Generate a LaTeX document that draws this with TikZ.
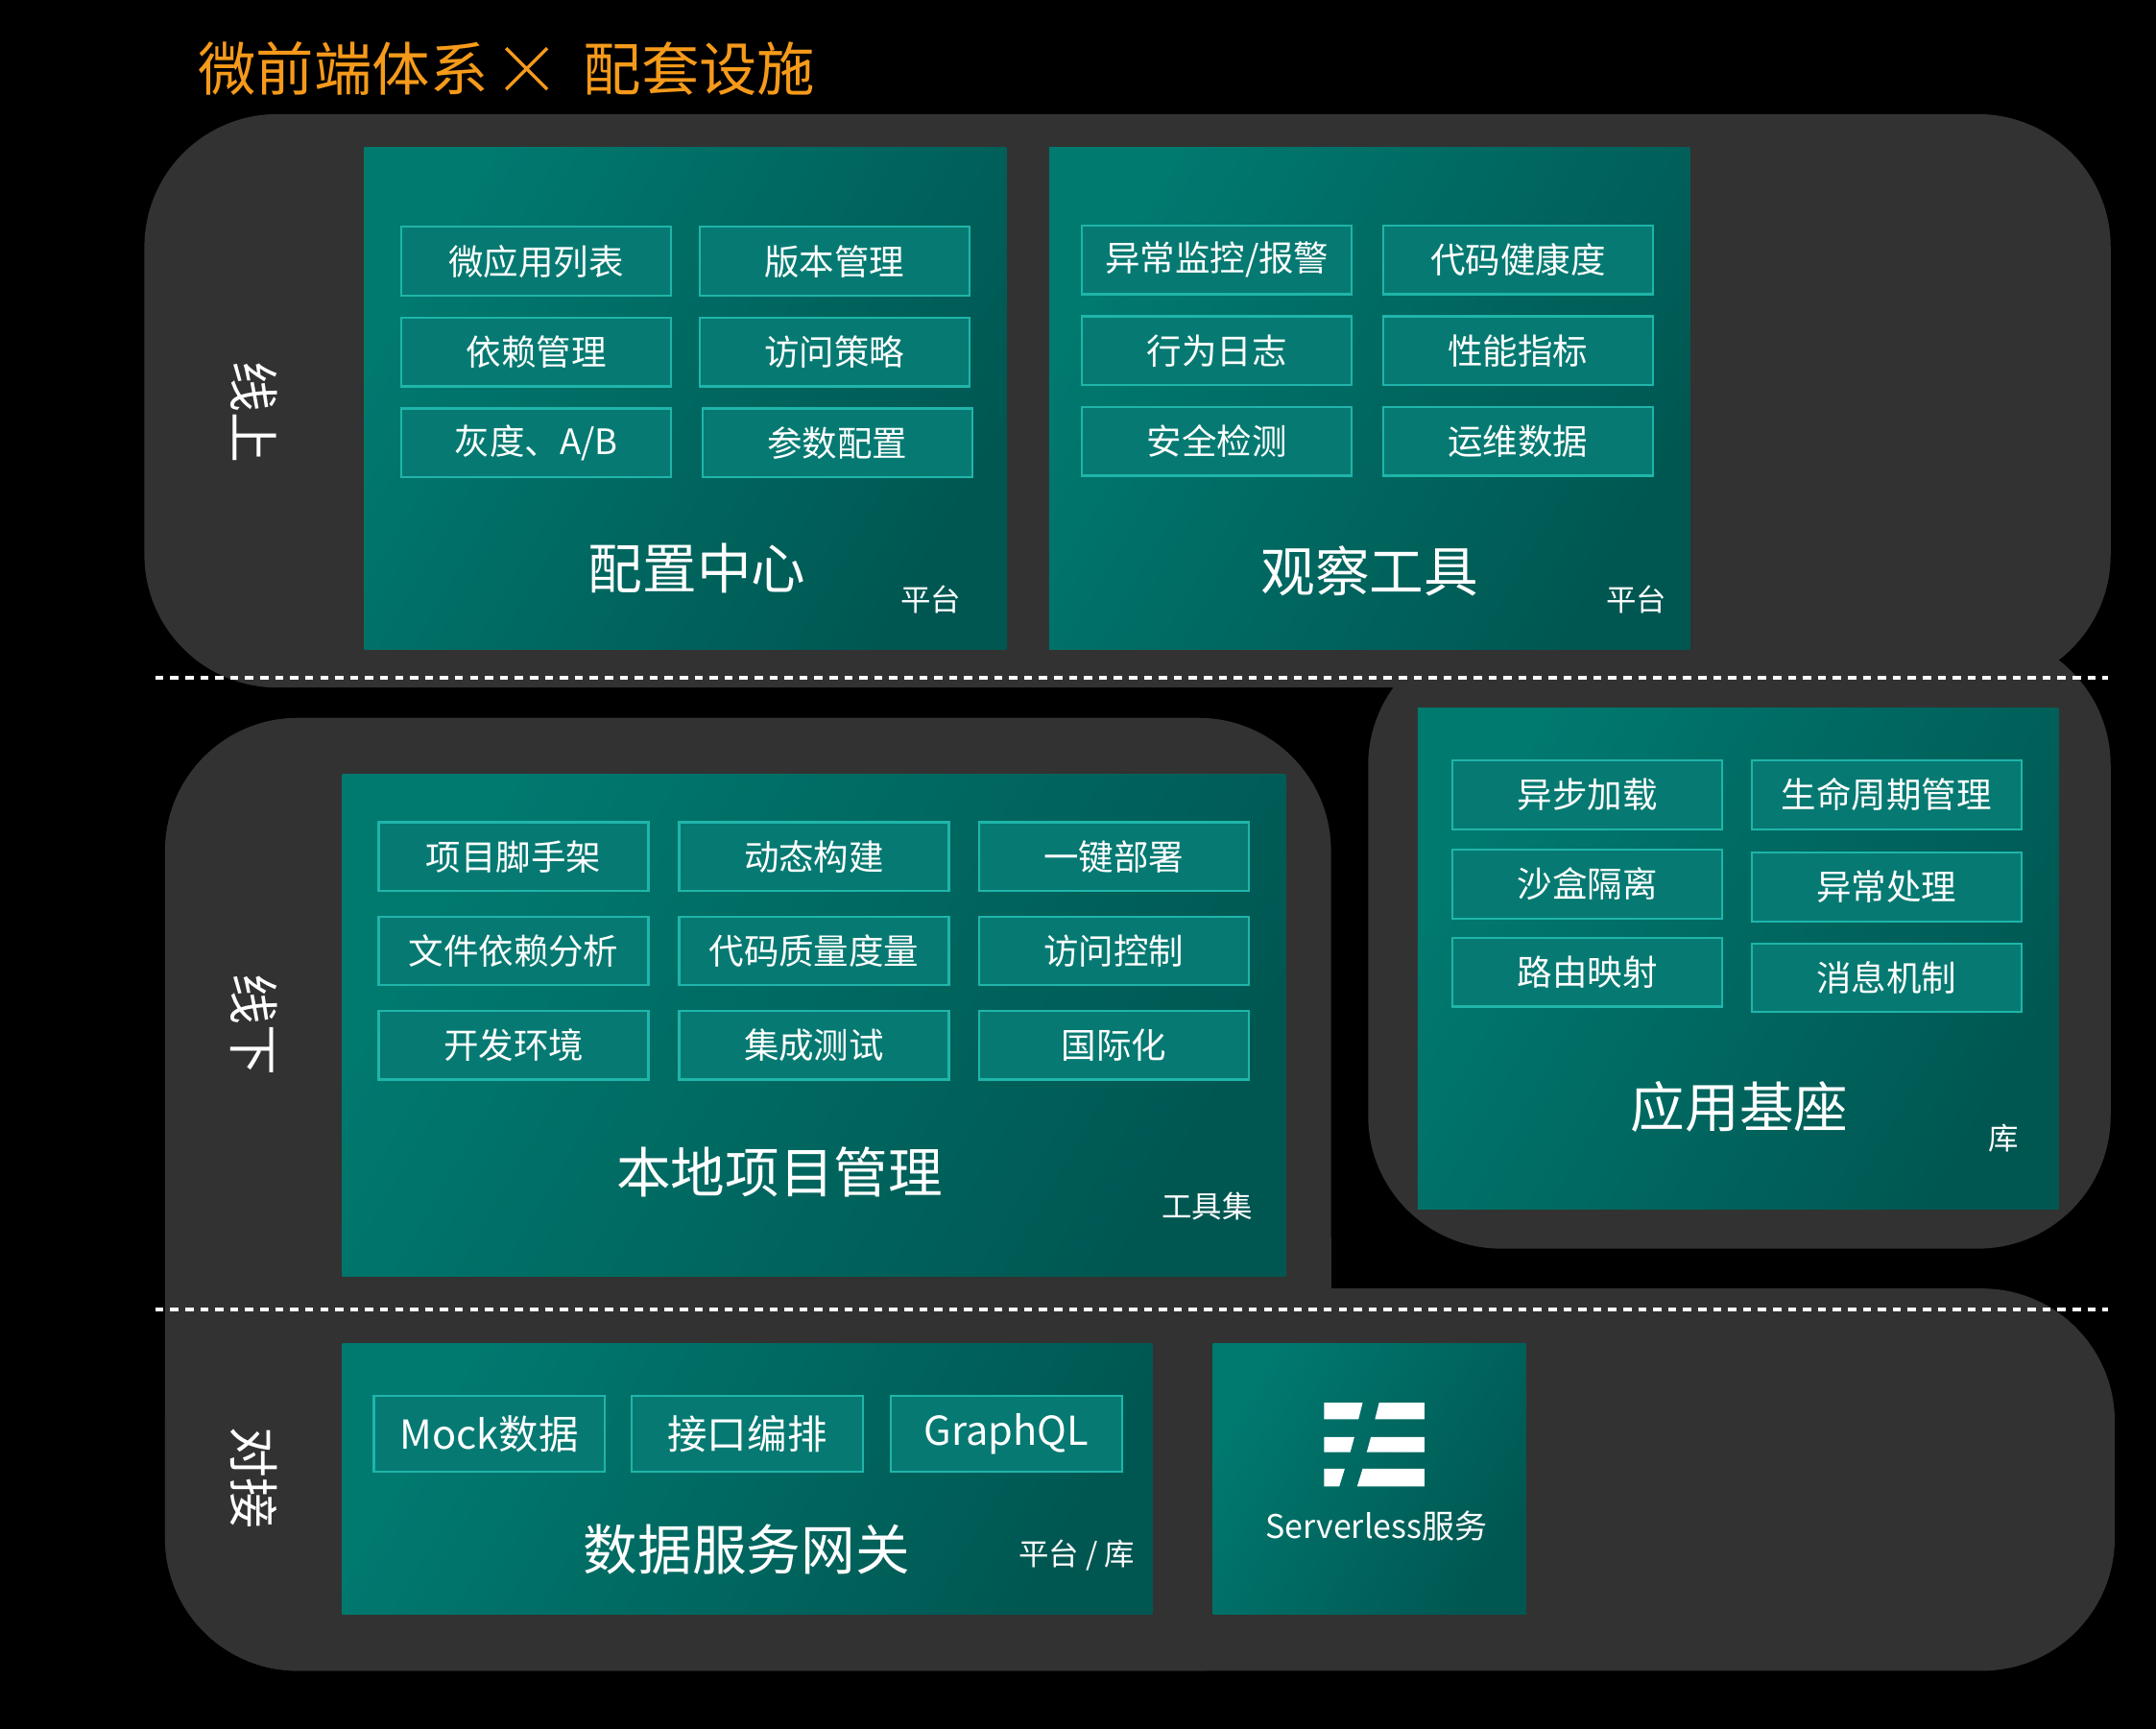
\documentclass[tikz,border=0pt]{standalone}
\usepackage{fontspec}
\setmainfont{Noto Sans CJK SC}
\definecolor{bg}{HTML}{000000}
\definecolor{panel}{HTML}{323232}
\definecolor{tealA}{HTML}{00796F}
\definecolor{tealB}{HTML}{005752}
\definecolor{itemfill}{HTML}{067A72}
\definecolor{itemline}{HTML}{1FB5AA}
\definecolor{orangeT}{HTML}{F59A1A}
\tikzset{
  panelbg/.style={fill=panel,rounded corners=55pt},
  tealbox/.style={left color=tealA,right color=tealB,shading angle=60},
  itembox/.style={draw=itemline,line width=0.9pt,fill=itemfill,text=white,
     minimum width=196*0.02cm,minimum height=50*0.02cm,inner sep=0pt,
     font=\fontsize{14.5pt}{16pt}\selectfont},
  dataitem/.style={itembox,minimum width=168*0.02cm,minimum height=55*0.02cm,
     font=\fontsize{16.5pt}{18pt}\selectfont},
  bigtitle/.style={text=white,font=\fontsize{22.5pt}{24pt}\selectfont},
  smalltag/.style={text=white,font=\fontsize{12.5pt}{14pt}\selectfont},
  sidelabel/.style={text=white,rotate=-90,font=\fontsize{21pt}{22pt}\selectfont},
  sep/.style={white,line width=1.7pt,dash pattern=on 3.4pt off 2.8pt},
}
\begin{document}
\begin{tikzpicture}[x=0.02cm,y=-0.02cm]
\fill[bg] (0,0) rectangle (1568,1257);
\useasboundingbox (0,0) rectangle (1568,1257);
% grey panels
\fill[panelbg] (105,83) rectangle (1535,500);
\fill[panelbg] (995,460) rectangle (1535,908);
\fill[panelbg] (120,522) rectangle (968,1215);
\fill[panelbg] (120,937) rectangle (1538,1215);
\fill[panel] (120,900) rectangle (968,1000);
% title
\node[text=orangeT,anchor=west,font=\fontsize{24pt}{26pt}\selectfont] (t1) at (138,50) {微前端体系};
\coordinate (xa) at (368,35); \coordinate (xb) at (398,65);
\coordinate (xc) at (398,35); \coordinate (xd) at (368,65);
\draw[orangeT,line width=1.3pt] (xa) -- (xb) (xc) -- (xd);
\node[text=orangeT,anchor=west,font=\fontsize{24pt}{26pt}\selectfont] (t2) at (418,50) {配套设施};
% separators
\coordinate (s1a) at (113,493); \coordinate (s1b) at (1533,493);
\coordinate (s2a) at (113,952); \coordinate (s2b) at (1533,952);
\draw[sep] (s1a) -- (s1b);
\draw[sep] (s2a) -- (s2b);
% side labels
\node[sidelabel] (l1) at (185,300) {线上};
\node[sidelabel] (l2) at (185,745) {线下};
\node[sidelabel] (l3) at (185,1075) {对接};
% config center
\shade[tealbox] (265,107) rectangle (732,472);
\node[itembox] (c1) at (390,190) {微应用列表};
\node[itembox] (c2) at (607,190) {版本管理};
\node[itembox] (c3) at (390,256) {依赖管理};
\node[itembox] (c4) at (607,256) {访问策略};
\node[itembox] (c5) at (390,322) {灰度、A/B};
\node[itembox] (c6) at (609,322) {参数配置};
\node[bigtitle] (ct) at (507,413) {配置中心};
\node[smalltag] (cg) at (677,436) {平台};
% observe
\shade[tealbox] (763,107) rectangle (1229,472);
\node[itembox] (o1) at (885,189) {异常监控/报警};
\node[itembox] (o2) at (1104,189) {代码健康度};
\node[itembox] (o3) at (885,255) {行为日志};
\node[itembox] (o4) at (1104,255) {性能指标};
\node[itembox] (o5) at (885,321) {安全检测};
\node[itembox] (o6) at (1104,321) {运维数据};
\node[bigtitle] (ot) at (996,415) {观察工具};
\node[smalltag] (og) at (1190,436) {平台};
% local
\shade[tealbox] (249,563) rectangle (935,928);
\node[itembox] (p1) at (373.5,623) {项目脚手架};
\node[itembox] (p2) at (592,623) {动态构建};
\node[itembox] (p3) at (810,623) {一键部署};
\node[itembox] (p4) at (373.5,691.5) {文件依赖分析};
\node[itembox] (p5) at (592,691.5) {代码质量度量};
\node[itembox] (p6) at (810,691.5) {访问控制};
\node[itembox] (p7) at (373.5,760) {开发环境};
\node[itembox] (p8) at (592,760) {集成测试};
\node[itembox] (p9) at (810,760) {国际化};
\node[bigtitle] (pt) at (567,852) {本地项目管理};
\node[smalltag] (pg) at (878,877) {工具集};
% app base
\shade[tealbox] (1031,515) rectangle (1497,879);
\node[itembox] (a1) at (1154.5,578) {异步加载};
\node[itembox] (a2) at (1372,578) {生命周期管理};
\node[itembox] (a3) at (1154.5,643) {沙盒隔离};
\node[itembox] (a4) at (1372,645) {异常处理};
\node[itembox] (a5) at (1154.5,707) {路由映射};
\node[itembox] (a6) at (1372,711) {消息机制};
\node[bigtitle] (at) at (1265,805) {应用基座};
\node[smalltag] (ag) at (1457,828) {库};
% data gateway
\shade[tealbox] (249,977) rectangle (838,1174);
\node[dataitem] (d1) at (356,1042.5) {Mock数据};
\node[dataitem] (d2) at (543.5,1042.5) {接口编排};
\node[dataitem] (d3) at (732,1042.5) {GraphQL};
\node[bigtitle] (dt) at (543,1127) {数据服务网关};
\node[smalltag] (dg) at (783,1131) {平台 / 库};
% serverless
\shade[tealbox] (882,977) rectangle (1110,1174);
\fill[white] (963,1020) -- (991,1020) -- (988,1032) -- (963,1032) -- cycle;
\fill[white] (1003,1020) -- (1036,1020) -- (1036,1032) -- (1000,1032) -- cycle;
\fill[white] (963,1045) -- (985,1045) -- (982,1056) -- (963,1056) -- cycle;
\fill[white] (997,1045) -- (1036,1045) -- (1036,1056) -- (994,1056) -- cycle;
\fill[white] (963,1068) -- (978,1068) -- (974,1081) -- (963,1081) -- cycle;
\fill[white] (991,1068) -- (1036,1068) -- (1036,1081) -- (987,1081) -- cycle;
\node[text=white,font=\fontsize{13.5pt}{15pt}\selectfont] (st) at (1001,1110) {Serverless服务};
\end{tikzpicture}
\end{document}
